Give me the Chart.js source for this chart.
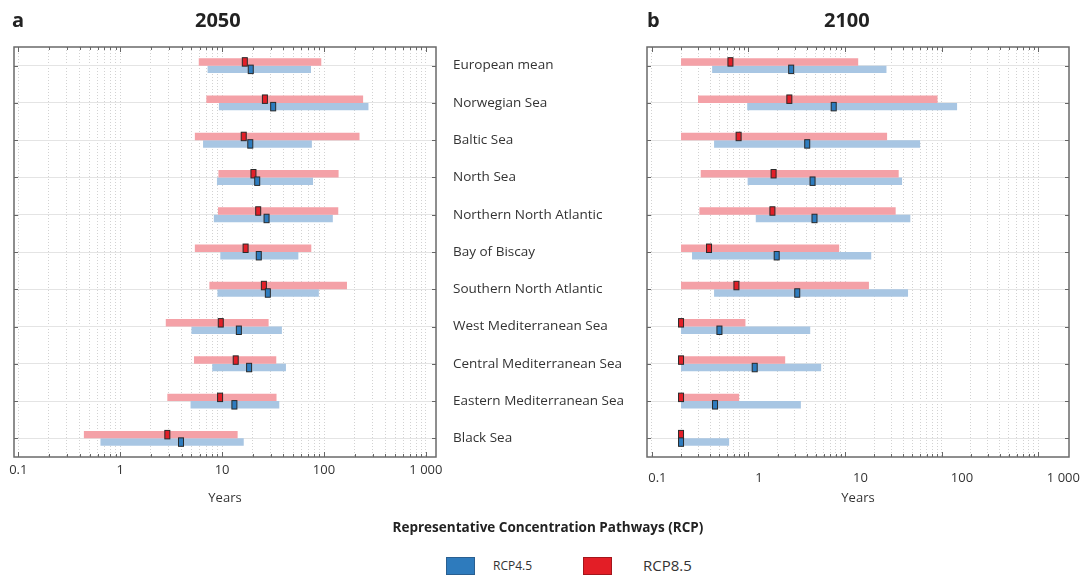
<!DOCTYPE html>
<html lang="en">
<head>
<meta charset="utf-8">
<title>Representative Concentration Pathways (RCP)</title>
<script src="https://cdn.jsdelivr.net/npm/chart.js@4.4.1/dist/chart.umd.min.js"></script>
<style>
  html, body { margin: 0; padding: 0; background: #fff; }
  body { width: 1089px; height: 577px; position: relative; overflow: hidden; font-family: "Open Sans", sans-serif; color: #222; }
  .panel { position: absolute; top: 0; height: 520px; }
  #panel-a { left: 0; width: 444px; }
  #panel-b { left: 440px; width: 649px; }
  .rotulo { position: absolute; top: 8px; font-size: 20px; font-weight: 700; line-height: 24px; color: #222; }
  #titulo-rcp { position: absolute; left: 0; width: 1096px; top: 518px; text-align: center; font-size: 13.5px; font-weight: 700; line-height: 18px; color: #222; }
  .sw { position: absolute; top: 557px; width: 29px; height: 18px; box-sizing: border-box; }
  .ley { position: absolute; color: #333; line-height: 18px; }
</style>
</head>
<body>
<div class="panel" id="panel-a"><canvas id="grafico-2050"></canvas></div>
<div class="panel" id="panel-b"><canvas id="grafico-2100"></canvas></div>

<div class="rotulo" style="left:12px;">a</div>
<div class="rotulo" style="left:195px;">2050</div>
<div class="rotulo" style="left:647px;">b</div>
<div class="rotulo" style="left:824px;">2100</div>

<div id="titulo-rcp">Representative Concentration Pathways (RCP)</div>
<span class="sw" style="left:446px; background:#2e7bbd; border:1px solid #2a5f90;"></span>
<span class="ley" style="left:493px; top:557px; font-size:12px;">RCP4.5</span>
<span class="sw" style="left:583px; background:#e31e26; border:1px solid #a3161c;"></span>
<span class="ley" style="left:643px; top:556px; font-size:15px;">RCP8.5</span>

<script>
const regiones = [
  "European mean", "Norwegian Sea", "Baltic Sea", "North Sea", "Northern North Atlantic",
  "Bay of Biscay", "Southern North Atlantic", "West Mediterranean Sea",
  "Central Mediterranean Sea", "Eastern Mediterranean Sea", "Black Sea"
];
const decadas = [0.1, 1, 10, 100, 1000];
const etiquetasX = ["0.1", "1", "10", "100", "1 000"];

// 2050 (años)
const min85_2050 = [5.9, 7.0, 5.4, 9.2, 9.1, 5.4, 7.5, 2.8, 5.3, 2.9, 0.44];
const max85_2050 = [94, 242, 223, 139, 138, 75, 168, 28.6, 34, 34.2, 14.2];
const med85_2050 = [16.7, 26.3, 16.3, 20.3, 22.6, 17.0, 25.7, 9.7, 13.6, 9.55, 2.9];
const min45_2050 = [7.2, 9.3, 6.5, 8.9, 8.3, 9.6, 9.0, 5.0, 8.0, 4.9, 0.64];
const max45_2050 = [74.5, 273, 76, 78, 122, 56, 89, 38.6, 42.3, 36.4, 16.3];
const med45_2050 = [19.1, 31.7, 18.9, 22.1, 27.3, 22.9, 28.1, 14.6, 18.4, 13.2, 3.95];

// 2100 (años)
const min85_2100 = [0.2, 0.3, 0.2, 0.32, 0.31, 0.2, 0.2, 0.2, 0.2, 0.2, 0.2];
const max85_2100 = [13.7, 91, 27.3, 36, 33.5, 8.7, 17.7, 0.93, 2.4, 0.8, 0.2];
const med85_2100 = [0.65, 2.65, 0.79, 1.82, 1.77, 0.39, 0.75, 0.2, 0.2, 0.2, 0.2];
const min45_2100 = [0.42, 0.97, 0.44, 0.98, 1.19, 0.26, 0.44, 0.2, 0.2, 0.2, 0.2];
const max45_2100 = [26.9, 145, 60, 39, 47.5, 18.7, 45, 4.36, 5.66, 3.49, 0.63];
const med45_2100 = [2.77, 7.64, 4.06, 4.61, 4.83, 1.96, 3.2, 0.5, 1.16, 0.45, 0.2];

const ROJO_BARRA = "#f4a1a7";
const AZUL_BARRA = "#a8c6e3";
const ROJO = "#e31f28";
const AZUL = "#2d7cbf";
const BORDE = "#2a2a2a";

Chart.defaults.font.family = "'Open Sans', sans-serif";
Chart.defaults.color = "#333";

function tramos(mins, maxs) {
  return mins.map((m, i) => [m, maxs[i]]);
}

function esDecada(v) {
  return decadas.some((d) => Math.abs(d - v) < 1e-9);
}

function ticksLog(scale) {
  const t = [];
  decadas.forEach((d) => {
    for (let k = 1; k < 10; k++) {
      const v = d * k;
      if (k > 1 && d >= 1000) break;
      if (v >= scale.min && v <= scale.max) t.push({ value: v, major: k === 1 });
    }
  });
  scale.ticks = t;
}

function ticksDecadas(scale) {
  scale.ticks = decadas.filter((d) => d >= scale.min && d <= scale.max).map((d) => ({ value: d }));
}

function etiquetaDecada(v) {
  const i = decadas.findIndex((d) => Math.abs(d - v) < 1e-9);
  return i >= 0 ? etiquetasX[i] : "";
}

function ajustarX(alto) {
  return (s) => {
    s.height = alto;
    s.paddingLeft = 0;
    s.paddingRight = 0;
  };
}

// medianas, marco y marcas interiores
const marcoPlugin = {
  id: "marco",
  afterDatasetsDraw(chart) {
    const { ctx, chartArea: a, scales } = chart;
    const x = scales.x;
    const y = scales.y;

    ctx.save();
    chart.data.datasets.forEach((ds, i) => {
      chart.getDatasetMeta(i).data.forEach((bar, j) => {
        const px = x.getPixelForValue(ds.mediana[j]);
        const { y: py, height: h } = bar.getProps(["y", "height"], true);
        ctx.fillStyle = ds.colorMediana;
        ctx.strokeStyle = BORDE;
        ctx.lineWidth = 1;
        ctx.fillRect(px - 2.5, py - h / 2 - 0.5, 5, h + 1);
        ctx.strokeRect(px - 2.5, py - h / 2 - 0.5, 5, h + 1);
      });
    });

    ctx.strokeStyle = "#666";
    ctx.lineWidth = 1;
    ctx.beginPath();
    x.ticks.forEach((t) => {
      const px = Math.round(x.getPixelForValue(t.value)) + 0.5;
      const largo = esDecada(t.value) ? 5 : 3;
      ctx.moveTo(px, a.bottom); ctx.lineTo(px, a.bottom - largo);
      ctx.moveTo(px, a.top); ctx.lineTo(px, a.top + largo);
    });
    y.ticks.forEach((t, i) => {
      const py = Math.round(y.getPixelForTick(i)) + 0.5;
      ctx.moveTo(a.left, py); ctx.lineTo(a.left + 4, py);
      ctx.moveTo(a.right, py); ctx.lineTo(a.right - 4, py);
    });
    ctx.stroke();

    ctx.strokeStyle = "#6a6a6a";
    ctx.lineWidth = 1.5;
    ctx.strokeRect(a.left, a.top, a.right - a.left, a.bottom - a.top);
    ctx.restore();
  }
};

function datasets(min85, max85, med85, min45, max45, med45) {
  const comun = { borderWidth: 0, categoryPercentage: 0.4, barPercentage: 1, xAxisID: "x" };
  return [
    { ...comun, label: "RCP8.5", data: tramos(min85, max85), mediana: med85, colorMediana: ROJO, backgroundColor: ROJO_BARRA },
    { ...comun, label: "RCP4.5", data: tramos(min45, max45), mediana: med45, colorMediana: AZUL, backgroundColor: AZUL_BARRA }
  ];
}

const ejeY = (conEtiquetas, ancho) => ({
  type: "category",
  offset: true,
  grid: { offset: false, color: "#e4e4e4", drawTicks: false },
  border: { display: false },
  ticks: conEtiquetas
    ? { crossAlign: "far", font: { size: 13.5 }, color: "#333" }
    : { display: false },
  afterFit: (s) => { s.width = ancho; }
});

const ejeTitulo = { display: true, text: "Years", font: { size: 13 }, color: "#333", padding: { top: 0, bottom: 11 } };
const ticksX = { callback: etiquetaDecada, autoSkip: false, maxRotation: 0, padding: 5, font: { size: 13 }, color: "#333" };
const gridX = { color: "#d2d2d2", drawTicks: false };
const bordeX = { display: false, dash: [1, 2] };

// panel a: 2050
new Chart(document.getElementById("grafico-2050"), {
  type: "bar",
  data: { labels: regiones, datasets: datasets(min85_2050, max85_2050, med85_2050, min45_2050, max45_2050, med45_2050) },
  options: {
    indexAxis: "y",
    responsive: true,
    maintainAspectRatio: false,
    animation: false,
    layout: { padding: { left: 14, right: 8, top: 47, bottom: 3 } },
    plugins: { legend: { display: false }, tooltip: { enabled: false } },
    scales: {
      x: {
        type: "logarithmic", position: "bottom", min: 0.0907, max: 1256, bounds: "data",
        afterBuildTicks: ticksLog,
        grid: gridX,
        border: bordeX,
        ticks: ticksX,
        title: ejeTitulo,
        afterFit: ajustarX(60)
      },
      y: ejeY(false, 0)
    }
  },
  plugins: [marcoPlugin]
});

// panel b: 2100
new Chart(document.getElementById("grafico-2100"), {
  type: "bar",
  data: { labels: regiones, datasets: datasets(min85_2100, max85_2100, med85_2100, min45_2100, max45_2100, med45_2100) },
  options: {
    indexAxis: "y",
    responsive: true,
    maintainAspectRatio: false,
    animation: false,
    layout: { padding: { left: 13, right: 20, top: 47, bottom: 3 } },
    plugins: { legend: { display: false }, tooltip: { enabled: false } },
    scales: {
      x: {
        type: "logarithmic", position: "bottom", min: 0.0888, max: 2094, bounds: "data",
        afterBuildTicks: ticksLog,
        grid: gridX,
        border: bordeX,
        ticks: { display: false },
        afterFit: ajustarX(0)
      },
      xl: {
        type: "logarithmic", position: "bottom", min: 0.079, max: 1135, bounds: "data",
        afterBuildTicks: ticksDecadas,
        grid: { display: false },
        border: { display: false },
        ticks: ticksX,
        title: ejeTitulo,
        afterFit: ajustarX(60)
      },
      y: ejeY(true, 194)
    }
  },
  plugins: [marcoPlugin]
});
</script>
</body>
</html>
